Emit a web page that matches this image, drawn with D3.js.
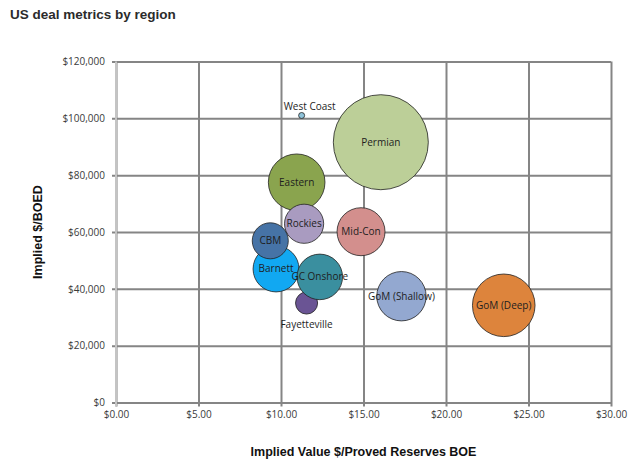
<!DOCTYPE html>
<html>
<head>
<meta charset="utf-8">
<script src="https://cdn.jsdelivr.net/npm/d3@7"></script>
<style>
  body { margin: 0; background: #fff; }
  svg { display: block; }
  .tick text { font-family: "Open Sans", "DejaVu Sans", sans-serif; font-size: 10px; fill: #3a3a3a; }
</style>
</head>
<body>
<svg id="chart"></svg>
<script>
// data (in drawing order, as the series overlap)
const regions = ["Permian", "Eastern", "Rockies", "Mid-Con", "Barnett", "CBM", "Fayetteville", "GC Onshore", "GoM (Shallow)", "GoM (Deep)", "West Coast"];
const valuePerBoe = [16.05, 10.95, 11.4, 14.85, 9.7, 9.35, 11.55, 12.35, 17.3, 23.5, 11.25];
const valuePerBoed = [91600, 77500, 62900, 60100, 47000, 56900, 35000, 44200, 37400, 34200, 101000];
const dealSize = [100, 35.5, 17, 25.5, 23.4, 14.4, 5.4, 23, 27, 43.4, 0.4];
const colors = ["#bccf98", "#8aa44e", "#a99bc0", "#d38f8d", "#11a8f2", "#4673a6", "#6a5494", "#3a8f9f", "#93a8d0", "#dd843c", "#8fc3da"];
const labelPos = ["center", "center", "center", "center", "center", "center", "below", "center", "center", "center", "above"];
const xTicks = [0, 5, 10, 15, 20, 25, 30];
const yTicks = [0, 20000, 40000, 60000, 80000, 100000, 120000];

const W = 640, H = 462;
const margin = { top: 61.5, right: 29, bottom: 59.5, left: 116 },
      width = W - margin.left - margin.right,
      height = H - margin.top - margin.bottom;

const svg = d3.select("#chart").attr("width", W).attr("height", H);

svg.append("text")
   .attr("x", 10).attr("y", 19)
   .attr("font-family", "Liberation Sans, Arial, sans-serif")
   .attr("font-weight", "bold").attr("font-size", 13.5)
   .attr("fill", "#2b2b2b")
   .text("US deal metrics by region");

const g = svg.append("g").attr("transform", `translate(${margin.left},${margin.top})`);

const x = d3.scaleLinear().domain([0, 30]).range([0, width]);
const y = d3.scaleLinear().domain([0, 120000]).range([height, 0]);
const r = d3.scaleSqrt().domain([0, 100]).range([0, 47.5]);

// gridlines + axes
g.append("g")
 .attr("transform", `translate(0,${height})`)
 .call(d3.axisBottom(x).tickValues(xTicks).tickSize(-height - 4).tickPadding(10)
         .tickFormat(d => "$" + d3.format(".2f")(d)))
 .call(a => a.select(".domain").remove())
 .call(a => a.selectAll(".tick line").attr("stroke", "#858585").attr("stroke-width", 2).attr("transform", "translate(0,4)"))
 .call(a => a.selectAll(".tick text").attr("dy", "0.5em"));

g.append("g")
 .call(d3.axisLeft(y).tickValues(yTicks).tickSize(-width - 4).tickPadding(8)
         .tickFormat(d => "$" + d3.format(",")(d)))
 .call(a => a.select(".domain").remove())
 .call(a => a.selectAll(".tick line").attr("stroke", "#858585").attr("stroke-width", 2).attr("transform", "translate(-4,0)"))
 .call(a => a.selectAll(".tick text").attr("x", -11));

// left axis line is lighter
g.append("line")
 .attr("x1", 0).attr("x2", 0).attr("y1", 0).attr("y2", height + 4)
 .attr("stroke", "#c4c4c4").attr("stroke-width", 2);

const data = regions.map((name, i) => ({
  name, x: valuePerBoe[i], y: valuePerBoed[i], size: dealSize[i], color: colors[i], pos: labelPos[i]
}));

g.selectAll(".bubble")
 .data(data)
 .enter().append("circle")
 .attr("class", "bubble")
 .attr("cx", d => x(d.x))
 .attr("cy", d => y(d.y))
 .attr("r", d => r(d.size))
 .attr("fill", d => d.color)
 .attr("stroke", "#222")
 .attr("stroke-width", 0.8);

// labels sit on top of every bubble
g.selectAll(".label")
 .data(data)
 .enter().append("text")
 .attr("class", "label")
 .attr("x", d => x(d.x) + (d.pos === "above" ? 8 : 0))
 .attr("y", d => {
   const cy = y(d.y);
   if (d.pos === "above") return cy - r(d.size) - 6;
   if (d.pos === "below") return cy + r(d.size) + 10;
   return cy;
 })
 .attr("dy", "0.35em")
 .attr("text-anchor", "middle")
 .attr("font-family", "Open Sans, DejaVu Sans, sans-serif")
 .attr("font-size", 10)
 .attr("fill", "#1e1e1e")
 .text(d => d.name);

// axis titles
svg.append("text")
   .attr("x", margin.left + width / 2).attr("y", 456)
   .attr("text-anchor", "middle")
   .attr("font-family", "Liberation Sans, Arial, sans-serif")
   .attr("font-weight", "bold").attr("font-size", 12.5)
   .attr("fill", "#111")
   .text("Implied Value $/Proved Reserves BOE");

svg.append("text")
   .attr("transform", `translate(42,${margin.top + height / 2})rotate(-90)`)
   .attr("text-anchor", "middle")
   .attr("font-family", "Liberation Sans, Arial, sans-serif")
   .attr("font-weight", "bold").attr("font-size", 12.5)
   .attr("fill", "#111")
   .text("Implied $/BOED");
</script>
</body>
</html>
